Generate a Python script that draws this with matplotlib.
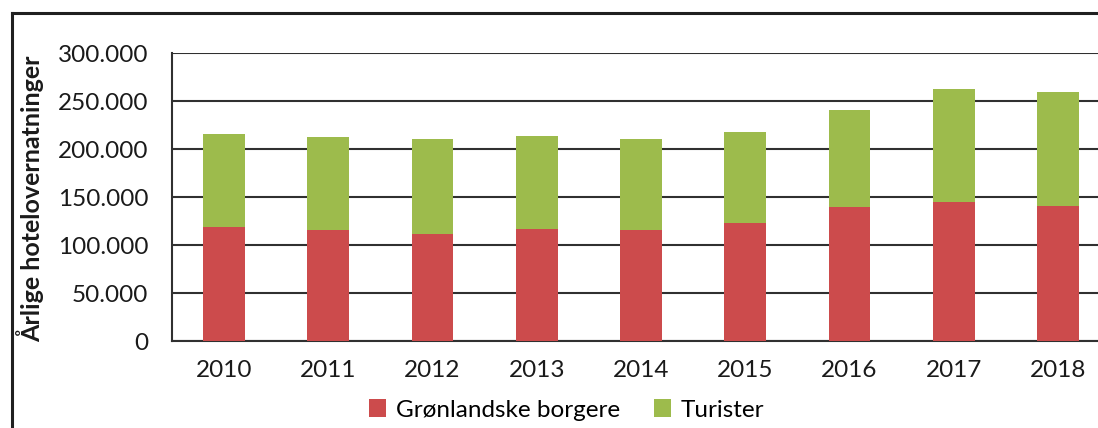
import matplotlib
matplotlib.use('Agg')
import matplotlib.pyplot as plt
from matplotlib.lines import Line2D
from matplotlib.ticker import FuncFormatter

aar = ['2010', '2011', '2012', '2013', '2014', '2015', '2016', '2017', '2018']
borgere = [119000, 116000, 111000, 117000, 116000, 123000, 140000, 145000, 141000]
turister = [96500, 97000, 99000, 97000, 94500, 94500, 100500, 118000, 118000]

plt.rcParams['font.family'] = ['Lato', 'DejaVu Sans']

fig = plt.figure(figsize=(10.98, 4.28), dpi=100)
ax = fig.add_axes([172/1098, 87/428, 938/1098, 288/428])

x = range(len(aar))
ax.bar(x, borgere, width=0.4, color='#cc4b4c', label='Grønlandske borgere', zorder=3)
ax.bar(x, turister, width=0.4, bottom=borgere, color='#9dbb4c', label='Turister', zorder=3)

ax.set_xlim(-0.5, len(aar) - 0.5)
ax.set_ylim(0, 300000)
ax.set_yticks(range(0, 300001, 50000))
ax.yaxis.set_major_formatter(FuncFormatter(lambda v, p: f'{int(v):,}'.replace(',', '.')))
ax.set_xticks(list(x))
ax.set_xticklabels(aar)
ax.tick_params(axis='both', length=0, labelsize=17.5, colors='#1a1a1a')
ax.tick_params(axis='y', pad=17)
ax.tick_params(axis='x', pad=14)
ax.grid(axis='y', color='#303030', linewidth=1.5, zorder=0)
for s in ['top', 'right']:
    ax.spines[s].set_visible(False)
for s in ['left', 'bottom']:
    ax.spines[s].set_color('#303030')
    ax.spines[s].set_linewidth(1.5)

fig.text(30/1098, 1 - 199/428, 'Årlige hotelovernatninger', rotation=90,
         ha='center', va='center', fontsize=18, fontweight='bold', color='#1a1a1a')

fig.legend(loc='center', bbox_to_anchor=(567/1098, 1 - 410/428), ncol=2, frameon=False,
           fontsize=17.5, handlelength=0.7, handleheight=0.7, handletextpad=0.4,
           columnspacing=1.4, borderpad=0)

# ramme fra scanningen
fig.add_artist(Line2D([12/1098, 1], [1 - 13/428, 1 - 13/428], color='#202020', linewidth=2.2))
fig.add_artist(Line2D([12/1098, 12/1098], [0, 1 - 13/428], color='#202020', linewidth=2.2))

fig.savefig('out.png', dpi=100)
